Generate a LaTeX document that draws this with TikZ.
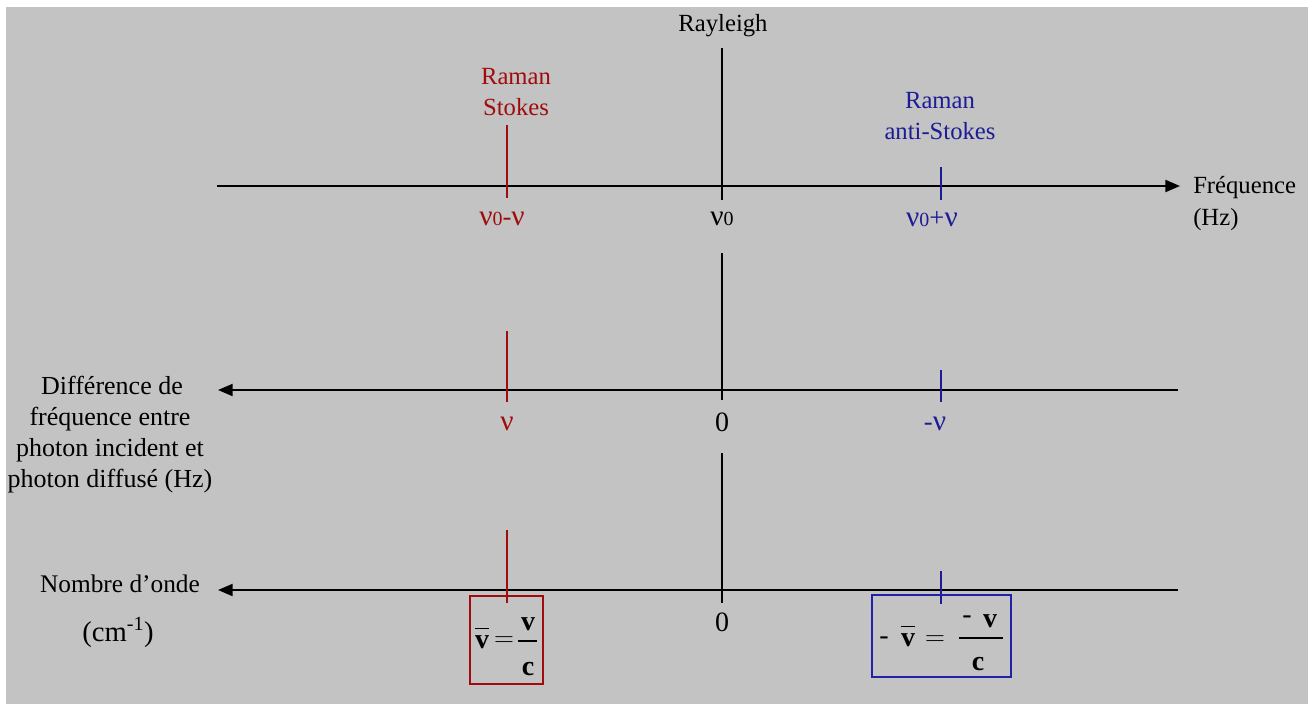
\documentclass[tikz,border=0pt]{standalone}
\usepackage{fontspec}
\setmainfont{Liberation Serif}
\usetikzlibrary{arrows.meta}
\definecolor{bggray}{HTML}{C3C3C3}
\definecolor{stokesred}{HTML}{A00C0C}
\definecolor{antiblue}{HTML}{1C1C96}
\definecolor{boxblue}{HTML}{2020A8}
\newcommand{\nuz}{{\fontsize{22}{22}\selectfont ν}{\fontsize{15}{15}\selectfont 0}}
\newcommand{\nul}{{\fontsize{22}{22}\selectfont ν}}
\newcommand{\vbarsym}{$\overline{\rule{0pt}{13.5pt}\mathbf{v}}$}
\begin{document}
\begin{tikzpicture}[x=0.75pt,y=-0.75pt,
  lbl/.style={font=\fontsize{18.5}{23}\selectfont, inner sep=0pt, anchor=base},
  side/.style={font=\fontsize{19.5}{23}\selectfont, inner sep=0pt, anchor=base},
  axisline/.style={line width=1.6pt, -{Triangle[length=11pt,width=9pt]}},
  tickline/.style={line width=1.5pt},
  sym/.style={inner sep=0pt, font=\fontsize{20}{20}\selectfont},
  fml/.style={inner sep=0pt, anchor=base, font=\fontsize{21}{21}\selectfont\bfseries},
  fbox/.style={line width=1.4pt, inner sep=0pt}
]
\useasboundingbox (0,0) rectangle (1316,704);
\fill[white] (0,0) rectangle (1316,704);
\fill[bggray] (6,7) rectangle (1308,704);

% ---- top axis (frequency)
\coordinate (a1s) at (217,186);
\coordinate (a1e) at (1180,186);
\draw[axisline] (a1s) -- (a1e);
\coordinate (r1t) at (507,125); \coordinate (r1b) at (507,198);
\coordinate (k1t) at (722,48);  \coordinate (k1b) at (722,200);
\coordinate (b1t) at (941,167); \coordinate (b1b) at (941,200);
\draw[tickline, stokesred] (r1t) -- (r1b);
\draw[tickline, black] (k1t) -- (k1b);
\draw[tickline, antiblue] (b1t) -- (b1b);

\node[lbl] (rayleigh) at (723,31) {Rayleigh};
\node[lbl, text=stokesred] (stokes1) at (516,84) {Raman};
\node[lbl, text=stokesred] (stokes2) at (516,115) {Stokes};
\node[lbl, text=antiblue] (anti1) at (940,108) {Raman};
\node[lbl, text=antiblue] (anti2) at (940,139) {anti-Stokes};
\node[lbl, anchor=base west] (freq1) at (1193,193) {Fréquence};
\node[lbl, anchor=base west] (freq2) at (1193,225) {(Hz)};

\node[sym, text=stokesred] (l1) at (502,219) {\nuz-\nul};
\node[sym] (l2) at (722,219) {\nuz};
\node[sym, text=antiblue] (l3) at (932,219) {\nuz+\nul};

% ---- middle axis (frequency difference)
\coordinate (a2s) at (1178,390);
\coordinate (a2e) at (218,390);
\draw[axisline] (a2s) -- (a2e);
\coordinate (r2t) at (507,331); \coordinate (r2b) at (507,402);
\coordinate (k2t) at (722,253); \coordinate (k2b) at (722,400);
\coordinate (b2t) at (941,370); \coordinate (b2b) at (941,402);
\draw[tickline, stokesred] (r2t) -- (r2b);
\draw[tickline, black] (k2t) -- (k2b);
\draw[tickline, antiblue] (b2t) -- (b2b);

\node[sym, text=stokesred] (m1) at (507,424) {\nul};
\node[sym, font=\fontsize{21}{21}\selectfont] (m2) at (722,422) {0};
\node[sym, text=antiblue] (m3) at (935,424) {-\nul};

\node[side] (diff1) at (112,394) {Différence de};
\node[side] (diff2) at (110,425) {fréquence entre};
\node[side] (diff3) at (110,456) {photon incident et};
\node[side] (diff4) at (110,487) {photon diffusé (Hz)};

% ---- bottom axis (wavenumber)
\coordinate (a3s) at (1178,590);
\coordinate (a3e) at (218,590);
\draw[axisline] (a3s) -- (a3e);
\coordinate (r3t) at (507,530); \coordinate (r3b) at (507,603);
\coordinate (k3t) at (722,453); \coordinate (k3b) at (722,603);
\coordinate (b3t) at (941,571); \coordinate (b3b) at (941,604);
\draw[tickline, stokesred] (r3t) -- (r3b);
\draw[tickline, black] (k3t) -- (k3b);
\draw[tickline, antiblue] (b3t) -- (b3b);

\node[sym, font=\fontsize{21}{21}\selectfont] (n2) at (722,622) {0};

\node[side, font=\fontsize{19}{23}\selectfont] (nombre) at (120,592) {Nombre d’onde};
\node[side, font=\fontsize{21.5}{23}\selectfont] (cm) at (118,641) {(cm\textsuperscript{-1})};

% red box: v-bar = v / c
\node[fbox, draw=stokesred, minimum width=54.75pt, minimum height=66pt] (redbox) at (506.5,640) {};
\node[fml] (rv) at (482,648) {\vbarsym};
\node[fml, anchor=center, font=\fontsize{21}{21}\selectfont] (req) at (504,642) {$=$};
\node[fml] (rnum) at (528,630) {v};
\node[fml] (rden) at (528,675) {c};
\draw[line width=0.9pt] (518,641) -- (537,641);

% blue box: - v-bar = (- v) / c
\node[fbox, draw=boxblue, minimum width=104pt, minimum height=61.5pt] (bluebox) at (941.5,636) {};
\node[fml, anchor=center, font=\fontsize{21}{21}\selectfont] (bm) at (884,641) {-};
\node[fml] (bv) at (908,646) {\vbarsym};
\node[fml, anchor=center, font=\fontsize{21}{21}\selectfont] (beq) at (935,641) {$=$};
\node[fml, anchor=center, font=\fontsize{21}{21}\selectfont] (bnm) at (967,620) {-};
\node[fml] (bnum) at (990,627) {v};
\node[fml] (bden) at (978,670) {c};
\draw[line width=1.6pt] (959,638) -- (1003,638);
\end{tikzpicture}
\end{document}
